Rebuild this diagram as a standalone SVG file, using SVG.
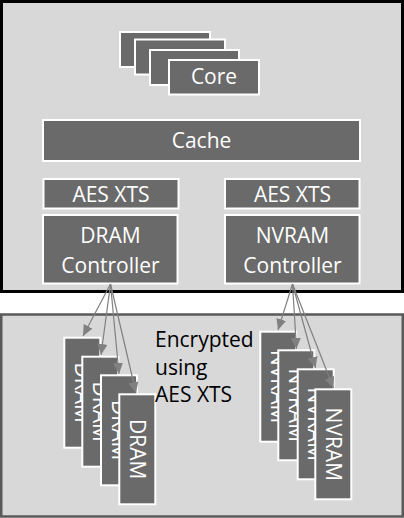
<svg xmlns="http://www.w3.org/2000/svg" width="404" height="518" viewBox="0 0 404 518">
<defs>
<style>
.box{fill:#6a6a6a;stroke:#ffffff;stroke-width:2}
.t{font-family:"Open Sans","Liberation Sans",sans-serif;font-size:21px;fill:#ffffff;text-anchor:middle}
.lbl{font-family:"Open Sans","Liberation Sans",sans-serif;font-size:21px;fill:#000000}
.arr{stroke:#808080;stroke-width:1.2;fill:none;marker-end:url(#ah)}
</style>
<marker id="ah" markerUnits="userSpaceOnUse" markerWidth="12" markerHeight="10" refX="11" refY="5" orient="auto">
<path d="M0,0 L11,5 L0,10 Z" fill="#808080"/>
</marker>
</defs>
<rect width="404" height="518" fill="#ffffff"/>
<g id="cpu">
<rect x="1.5" y="1.5" width="401" height="290" fill="#d8d8d8" stroke="#000000" stroke-width="3"/>
</g>
<g id="memory">
<rect x="1.25" y="314.5" width="401.5" height="202" fill="#d8d8d8" stroke="#5a5a5a" stroke-width="2.5"/>
</g>
<g id="cores">
<rect class="box" x="120" y="32" width="90" height="35"/>
<rect class="box" x="135" y="39.5" width="90" height="35"/>
<rect class="box" x="150" y="50" width="89" height="35"/>
<rect class="box" x="169" y="60" width="90" height="34.5"/>
<text class="t" x="214" y="84">Core</text>
</g>
<g id="cache">
<rect class="box" x="43" y="120" width="317" height="41"/>
<text class="t" x="201.5" y="147.5">Cache</text>
</g>
<g id="aes-left">
<rect class="box" x="43.5" y="179" width="135" height="29.5"/>
<text class="t" x="111" y="201.5">AES XTS</text>
</g>
<g id="dram-controller">
<rect class="box" x="43" y="215" width="134.5" height="68.5"/>
<text class="t" x="110.5" y="242.5">DRAM</text>
<text class="t" x="110.5" y="272.5">Controller</text>
</g>
<g id="aes-right">
<rect class="box" x="225" y="179" width="134.5" height="29.5"/>
<text class="t" x="292.5" y="201.5">AES XTS</text>
</g>
<g id="nvram-controller">
<rect class="box" x="225" y="215" width="134.5" height="68.5"/>
<text class="t" x="292.5" y="242.5">NVRAM</text>
<text class="t" x="292.5" y="272.5">Controller</text>
</g>
<g id="dram-chips">
<rect class="box" x="64.3" y="337.7" width="36" height="110"/>
<text class="t" transform="translate(82.3,392.7) rotate(90)" x="0" y="7.5">DRAM</text>
<rect class="box" x="82.3" y="356.7" width="36" height="110"/>
<text class="t" transform="translate(100.3,411.7) rotate(90)" x="0" y="7.5">DRAM</text>
<rect class="box" x="101" y="375.3" width="36" height="110"/>
<text class="t" transform="translate(119,430.3) rotate(90)" x="0" y="7.5">DRAM</text>
<rect class="box" x="119.3" y="394.3" width="36" height="110"/>
<text class="t" transform="translate(137.3,449.3) rotate(90)" x="0" y="7.5">DRAM</text>
</g>
<g id="nvram-chips">
<rect class="box" x="260.3" y="331.7" width="36" height="110"/>
<text class="t" transform="translate(278.3,386.7) rotate(90)" x="0" y="7.5">NVRAM</text>
<rect class="box" x="278.3" y="350.3" width="36" height="110"/>
<text class="t" transform="translate(296.3,405.3) rotate(90)" x="0" y="7.5">NVRAM</text>
<rect class="box" x="297.7" y="369.3" width="36" height="110"/>
<text class="t" transform="translate(315.7,424.3) rotate(90)" x="0" y="7.5">NVRAM</text>
<rect class="box" x="315.3" y="389.3" width="36" height="110"/>
<text class="t" transform="translate(333.3,444.3) rotate(90)" x="0" y="7.5">NVRAM</text>
</g>
<g id="connectors">
<line class="arr" x1="110.5" y1="284" x2="83" y2="336"/>
<line class="arr" x1="110.5" y1="284" x2="101" y2="355"/>
<line class="arr" x1="110.5" y1="284" x2="119" y2="374"/>
<line class="arr" x1="110.5" y1="284" x2="136" y2="393"/>
<line class="arr" x1="292.5" y1="284" x2="278" y2="330"/>
<line class="arr" x1="292.5" y1="284" x2="296.5" y2="349"/>
<line class="arr" x1="292.5" y1="284" x2="315.5" y2="368"/>
<line class="arr" x1="292.5" y1="284" x2="333.5" y2="388"/>
</g>
<g id="label">
<text class="lbl" x="155" y="347">Encrypted</text>
<text class="lbl" x="155" y="374.5">using</text>
<text class="lbl" x="155" y="402">AES XTS</text>
</g>
</svg>
